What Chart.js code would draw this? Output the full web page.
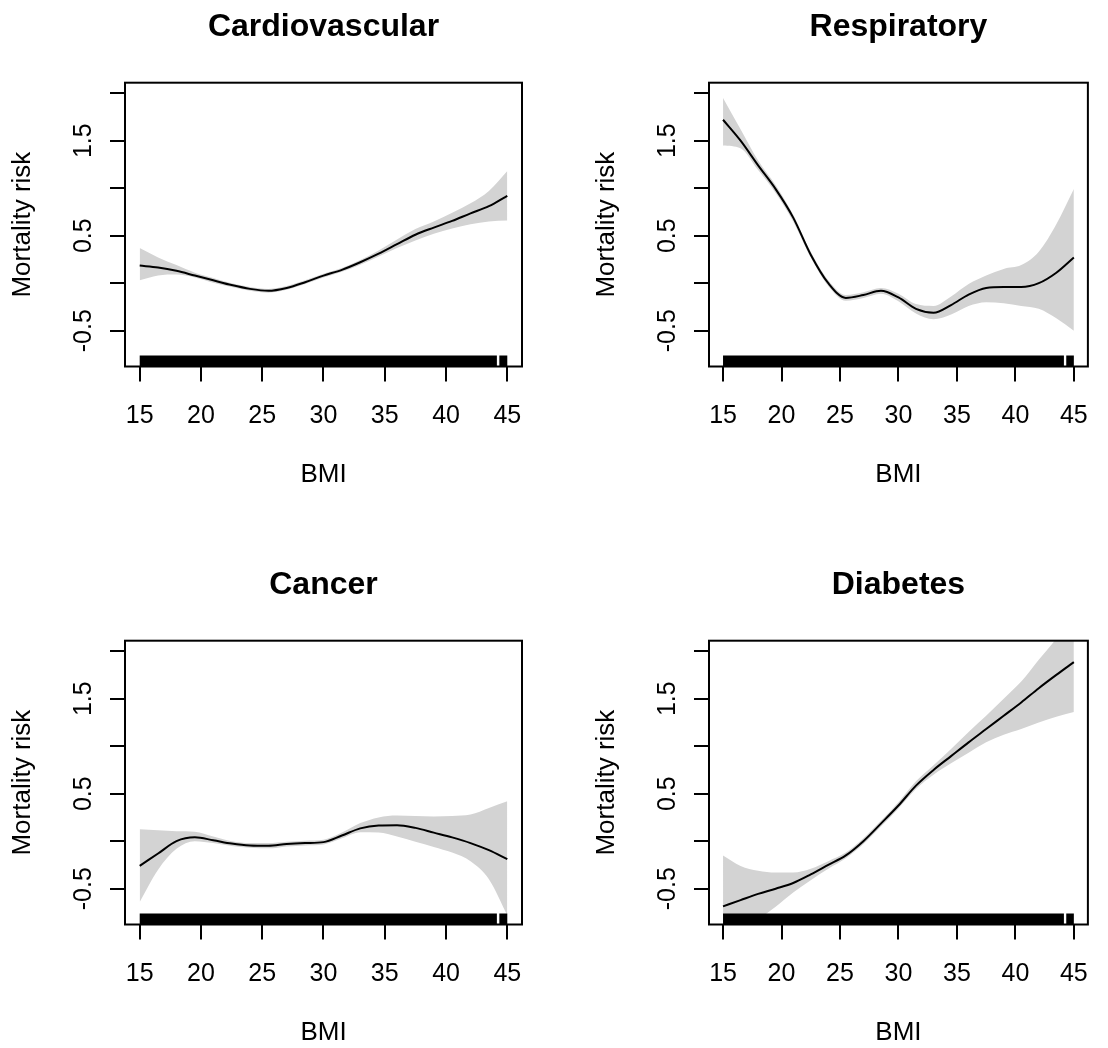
<!DOCTYPE html>
<html><head><meta charset="utf-8">
<script src="https://cdn.jsdelivr.net/npm/chart.js@4.4.1/dist/chart.umd.min.js"></script>
<style>
html,body{margin:0;padding:0;background:#fff;overflow:hidden;width:1108px;height:1048px;}
canvas{position:absolute;display:block;}
</style></head><body>
<canvas id="c0" width="554" height="490" style="left:0px;top:0px"></canvas>
<canvas id="c1" width="524" height="490" style="left:584px;top:0px"></canvas>
<canvas id="c2" width="554" height="490" style="left:0px;top:558px"></canvas>
<canvas id="c3" width="524" height="490" style="left:584px;top:558px"></canvas>
<script>
// ---------- data ----------
const bmi = [15,16.5,18,19.5,21,22.5,24,25.5,27,28.5,30,31.5,33,34.5,36,37.5,39,40.5,42,43.5,45];

const cardioFit = [0.185,0.165,0.13,0.08,0.03,-0.02,-0.06,-0.08,-0.05,0.01,0.08,0.14,0.22,0.31,0.41,0.51,0.585,0.655,0.735,0.81,0.92];
const cardioLo  = [0.03,0.08,0.09,0.06,0.005,-0.04,-0.08,-0.10,-0.07,-0.01,0.06,0.12,0.195,0.28,0.37,0.45,0.52,0.575,0.62,0.65,0.66];
const cardioHi  = [0.37,0.27,0.19,0.11,0.055,0.00,-0.04,-0.06,-0.03,0.03,0.10,0.16,0.245,0.345,0.46,0.57,0.65,0.74,0.84,0.97,1.18];

const respFit = [1.72,1.50,1.24,0.99,0.69,0.30,0.00,-0.155,-0.125,-0.08,-0.15,-0.27,-0.31,-0.23,-0.12,-0.05,-0.04,-0.04,0.00,0.11,0.27];
const respLo  = [1.45,1.42,1.19,0.95,0.65,0.27,-0.03,-0.185,-0.155,-0.11,-0.19,-0.32,-0.38,-0.33,-0.24,-0.20,-0.21,-0.24,-0.27,-0.37,-0.50];
const respHi  = [1.95,1.62,1.29,1.03,0.72,0.33,0.03,-0.125,-0.095,-0.05,-0.11,-0.22,-0.24,-0.14,-0.01,0.08,0.15,0.19,0.33,0.62,0.99];

const cancerFit = [-0.26,-0.13,0.00,0.04,0.01,-0.025,-0.045,-0.048,-0.03,-0.02,-0.01,0.06,0.135,0.165,0.168,0.14,0.09,0.04,-0.02,-0.095,-0.19];
const cancerLo  = [-0.64,-0.30,-0.08,0.00,-0.02,-0.05,-0.07,-0.075,-0.055,-0.045,-0.035,0.03,0.095,0.09,0.05,-0.005,-0.06,-0.12,-0.21,-0.40,-0.78];
const cancerHi  = [0.125,0.115,0.105,0.10,0.05,0.00,-0.02,-0.02,-0.005,0.005,0.015,0.09,0.19,0.25,0.27,0.265,0.26,0.265,0.28,0.35,0.42];

const diabFit = [-0.686,-0.62,-0.555,-0.50,-0.44,-0.35,-0.25,-0.15,0.00,0.185,0.375,0.585,0.75,0.895,1.04,1.18,1.32,1.46,1.61,1.75,1.885];
const diabLo  = [-1.15,-1.0,-0.83,-0.69,-0.54,-0.41,-0.29,-0.18,-0.03,0.155,0.345,0.55,0.70,0.82,0.93,1.04,1.12,1.18,1.25,1.31,1.36];
const diabHi  = [-0.15,-0.26,-0.31,-0.33,-0.33,-0.29,-0.21,-0.12,0.03,0.215,0.41,0.63,0.80,0.97,1.15,1.32,1.50,1.68,1.91,2.13,2.37];

const rugSegments = [[15,44.15],[44.35,45]];

const xTicks = [15,20,25,30,35,40,45];
const xTickLabels = ['15','20','25','30','35','40','45'];
const yTicks = [-0.5,0,0.5,1,1.5,2];
const yTickLabels = ['-0.5','','0.5','','1.5',''];

const titles = ['Cardiovascular','Respiratory','Cancer','Diabetes'];
const xTitle = 'BMI';
const yTitle = 'Mortality risk';

const X_MIN = 13.8, X_MAX = 46.2;
const Y_MIN = -0.877, Y_MAX = 2.11;

// ---------- chart ----------
const FAMILY = '"Liberation Sans", Arial, sans-serif';
Chart.defaults.font.family = FAMILY;
Chart.defaults.color = '#000';

const boxPlugin = {
  id: 'box',
  afterDatasetsDraw(chart) {
    const {ctx, chartArea: a} = chart;
    ctx.save();
    ctx.strokeStyle = '#000';
    ctx.lineWidth = 2;
    ctx.strokeRect(a.left, a.top, a.right - a.left, a.bottom - a.top);
    ctx.restore();
  }
};

function pts(ys) { return bmi.map((x, i) => ({x: x, y: ys[i]})); }
function rugPts() {
  const out = [];
  rugSegments.forEach((s, i) => {
    if (i > 0) out.push({x: (rugSegments[i-1][1] + s[0]) / 2, y: null});
    out.push({x: s[0], y: Y_MIN});
    out.push({x: s[1], y: Y_MIN});
  });
  return out;
}

function makeChart(id, title, fit, lo, hi, rightPad) {
  new Chart(document.getElementById(id), {
    type: 'line',
    data: {
      datasets: [
        {data: pts(hi), borderWidth: 0, pointRadius: 0, fill: false, order: 3, cubicInterpolationMode: 'monotone', borderColor: 'rgba(0,0,0,0)'},
        {data: pts(lo), borderWidth: 0, pointRadius: 0, fill: '-1', backgroundColor: '#d3d3d3', order: 3, cubicInterpolationMode: 'monotone', borderColor: 'rgba(0,0,0,0)'},
        {data: pts(fit), borderWidth: 2, borderColor: '#000', pointRadius: 0, fill: false, order: 1, cubicInterpolationMode: 'monotone'},
        {data: rugPts(), borderWidth: 22, borderColor: '#000', borderCapStyle: 'butt', pointRadius: 0, fill: false, order: 0, clip: 0, spanGaps: false}
      ]
    },
    options: {
      responsive: false,
      animation: false,
      events: [],
      layout: {padding: {left: 0, right: rightPad, top: 0, bottom: 0}},
      plugins: {
        legend: {display: false},
        tooltip: {enabled: false},
        title: {display: true, text: title, color: '#000', fullSize: false,
                font: {size: 32, weight: 'bold', lineHeight: 1.2},
                padding: {top: 7.5, bottom: 36.8}}
      },
      scales: {
        x: {
          type: 'linear', min: X_MIN, max: X_MAX, bounds: 'data',
          afterBuildTicks: s => { s.ticks = xTicks.map(v => ({value: v})); },
          afterFit: s => { s.height = 123.5; },
          ticks: {autoSkip: false, maxRotation: 0, minRotation: 0, padding: 19.5,
                  font: {size: 25, lineHeight: 1.2}, color: '#000',
                  callback: v => xTickLabels[xTicks.indexOf(v)]},
          grid: {drawOnChartArea: false, drawTicks: true, tickLength: 15, tickColor: '#000', tickWidth: 2, lineWidth: 2, color: '#000'},
          border: {display: false},
          title: {display: true, text: xTitle, color: '#000', font: {size: 26, lineHeight: 1.0}, padding: {top: 0, bottom: 2}}
        },
        y: {
          type: 'linear', min: Y_MIN, max: Y_MAX, bounds: 'data',
          afterBuildTicks: s => { s.ticks = yTicks.map(v => ({value: v})); },
          afterFit: s => { s.width = 125; },
          ticks: {autoSkip: false, minRotation: 90, maxRotation: 90, crossAlign: 'center', padding: 4,
                  font: {size: 25, lineHeight: 1.2}, color: '#000',
                  callback: v => yTickLabels[yTicks.indexOf(v)]},
          grid: {drawOnChartArea: false, drawTicks: true, tickLength: 15, tickColor: '#000', tickWidth: 2, lineWidth: 2, color: '#000'},
          border: {display: false},
          title: {display: true, text: yTitle, color: '#000', font: {size: 26, lineHeight: 1.2}, padding: {top: 7.7, bottom: 0}}
        }
      }
    },
    plugins: [boxPlugin]
  });
}

makeChart('c0', titles[0], cardioFit, cardioLo, cardioHi, 32);
makeChart('c1', titles[1], respFit, respLo, respHi, 4);
makeChart('c2', titles[2], cancerFit, cancerLo, cancerHi, 32);
makeChart('c3', titles[3], diabFit, diabLo, diabHi, 4);
</script>
</body></html>
